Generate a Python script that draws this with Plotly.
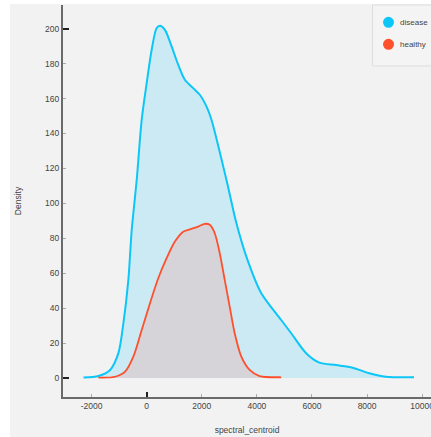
import plotly.graph_objects as go

# Count-scaled density estimates of spectral_centroid per class
disease_x = [-2293, -1751, -1328, -1027, -846, -666, -543, -362, -181, 0, 181, 362, 481,
             662, 904, 1143, 1385, 1686, 1928, 2170, 2351, 2894, 3255, 3617, 4160, 4883,
             5245, 5787, 6268, 6872, 7473, 8077, 8681, 9704]
disease_y = [0.2, 1.1, 4.6, 14.2, 31.3, 56.2, 84.8, 113.5, 147.9, 168.9, 188.0, 200.4, 201.7,
             199.4, 189.9, 179.4, 170.8, 166.0, 162.2, 155.5, 147.9, 113.5, 88.7, 69.5, 48.5, 33.2,
             25.6, 14.2, 8.8, 7.4, 5.9, 2.7, 0.7, 0.4]

healthy_x = [-1751, -1147, -785, -485, -181, 119, 420, 723, 1024, 1324, 1628, 1866, 2109,
             2290, 2470, 2651, 2832, 3013, 3194, 3436, 3736, 4098, 4821, 4883]
healthy_y = [0.2, 0.7, 3.6, 12.2, 27.5, 42.8, 57.1, 68.6, 78.1, 83.8, 85.4, 86.7, 88.3,
             87.7, 82.9, 71.5, 56.2, 40.9, 25.6, 12.2, 4.6, 1.1, 0.4, 0.4]

series_names = ["disease", "healthy"]

x_ticks = [-2000, 0, 2000, 4000, 6000, 8000, 10000]
x_tick_text = [str(v) for v in x_ticks]
y_ticks = [0, 20, 40, 60, 80, 100, 120, 140, 160, 180, 200]

BLUE = "#0cc6f7"
BLUE_FILL = "#cceaf4"
RED = "#ff4f2b"
RED_FILL = "#d6d4d9"
BG = "#f2f2f2"
FONT = "Liberation Sans"
TEXT = "#444444"

x_range = [-3038, 10320]
y_range = [-10.9, 213.6]

# plot-area geometry in pixels (used to place the page decorations)
L, T, W, H = 63, 5, 368, 392


def px(x):
    return (x - L) / W


def py(y):
    return (T + H - y) / H


fig = go.Figure()

fig.add_trace(go.Scatter(
    x=disease_x, y=disease_y, mode="lines", fill="tozeroy", name=series_names[0],
    line=dict(color=BLUE, width=2, shape="spline", smoothing=0.8),
    fillcolor=BLUE_FILL, showlegend=False, hoverinfo="skip"))
fig.add_trace(go.Scatter(
    x=healthy_x, y=healthy_y, mode="lines", fill="tozeroy", name=series_names[1],
    line=dict(color=RED, width=1.8, shape="spline", smoothing=0.8),
    fillcolor=RED_FILL, showlegend=False, hoverinfo="skip"))

# overlay axes carrying the dark major ticks
fig.add_trace(go.Scatter(x=[None], y=[None], xaxis="x2", yaxis="y2",
                         showlegend=False, hoverinfo="skip"))

tick_font = dict(family=FONT, size=8.5, color=TEXT)

# legend box with round swatches
shapes = [
    dict(type="rect", xref="paper", yref="paper", x0=px(372.5), x1=px(440),
         y0=py(66), y1=py(5), fillcolor="#f4f4f4", line=dict(color="#dddddd", width=1),
         layer="above"),
]
annotations = []
for i, (name, color) in enumerate(zip(series_names, [BLUE, RED])):
    cy = 22.3 + i * 22
    shapes.append(dict(type="circle", xref="paper", yref="paper",
                       xsizemode="pixel", ysizemode="pixel",
                       xanchor=px(388.5), yanchor=py(cy),
                       x0=-5.5, x1=5.5, y0=-5.5, y1=5.5,
                       fillcolor=color, line=dict(width=0), layer="above"))
    annotations.append(dict(text=name, xref="paper", yref="paper", x=px(397.5), y=py(cy),
                            xanchor="left", yanchor="middle", showarrow=False,
                            font=dict(family=FONT, size=8, color=TEXT)))

# white strips along the left and top page edges
shapes += [
    dict(type="rect", xref="paper", yref="paper", x0=px(0), x1=px(10),
         y0=py(437), y1=py(0), fillcolor="white", line=dict(width=0), layer="above"),
    dict(type="rect", xref="paper", yref="paper", x0=px(0), x1=1.0,
         y0=py(4), y1=py(0), fillcolor="white", line=dict(width=0), layer="above"),
]

fig.update_layout(
    width=431, height=437,
    margin=dict(l=L, r=431 - L - W, t=T, b=437 - T - H, autoexpand=False),
    paper_bgcolor=BG,
    plot_bgcolor=BG,
    showlegend=False,
    font=dict(family=FONT, size=8.5, color=TEXT),
    xaxis=dict(range=x_range, tickvals=x_ticks, ticktext=x_tick_text, ticks="inside", ticklen=3,
               tickcolor="#aaaaaa", tickwidth=1, showgrid=False, zeroline=False,
               showline=True, linecolor="#6a6a6a", linewidth=2, tickfont=tick_font,
               ticklabeloverflow="allow",
               title=dict(text="spectral_centroid", font=dict(family=FONT, size=8.5, color=TEXT),
                          standoff=17)),
    yaxis=dict(range=y_range, tickvals=y_ticks, ticks="inside", ticklen=3,
               tickcolor="#aaaaaa", tickwidth=1, showgrid=False, zeroline=False,
               showline=True, linecolor="#6a6a6a", linewidth=2, tickfont=tick_font,
               title=dict(text="Density", font=dict(family=FONT, size=8.5, color=TEXT),
                          standoff=22)),
    xaxis2=dict(overlaying="x", range=x_range, tickvals=[0], ticks="inside", ticklen=5,
                tickcolor="#222222", tickwidth=1.5, showticklabels=False, showgrid=False,
                zeroline=False, showline=False),
    yaxis2=dict(overlaying="y", range=y_range, tickvals=[0, 200], ticks="inside", ticklen=6,
                tickcolor="#222222", tickwidth=1.5, showticklabels=False, showgrid=False,
                zeroline=False, showline=False),
    shapes=shapes,
    annotations=annotations,
)

fig.write_html("out.html")
